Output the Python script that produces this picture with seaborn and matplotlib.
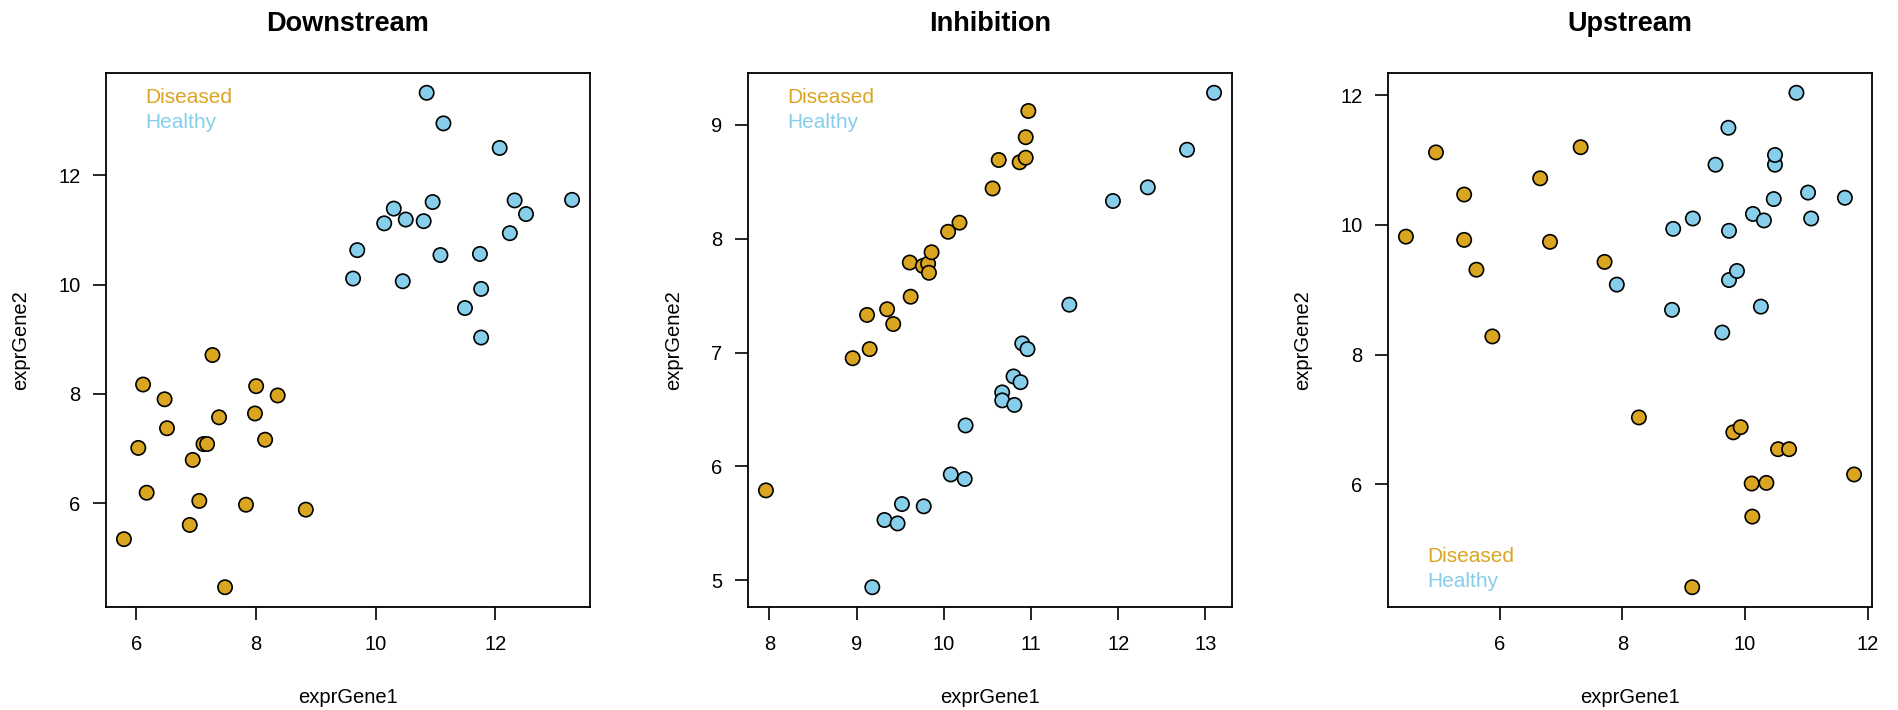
import numpy as np
import pandas as pd
import matplotlib
matplotlib.use("Agg")
import matplotlib.pyplot as plt
import seaborn as sns

sns.set_theme(style="white")
plt.rcParams['font.family'] = ['Liberation Sans', 'DejaVu Sans']
plt.rcParams['text.color'] = 'black'
plt.rcParams['axes.labelcolor'] = 'black'
plt.rcParams['xtick.color'] = 'black'
plt.rcParams['ytick.color'] = 'black'

# ---- data -------------------------------------------------------------
groups = ["Diseased", "Healthy"]
group_colors = {"Diseased": "#DAA520", "Healthy": "#87CEEB"}
panel_titles = ["Downstream", "Inhibition", "Upstream"]

# Downstream
down_dis_g1 = [5.79, 6.11, 6.03, 6.17, 6.47, 6.51, 6.94, 6.89, 7.05, 7.12, 7.18,
               7.27, 7.38, 7.48, 7.83, 8.00, 7.98, 8.15, 8.36, 8.83]
down_dis_g2 = [5.34, 8.17, 7.01, 6.19, 7.90, 7.37, 6.79, 5.60, 6.04, 7.08, 7.08,
               8.71, 7.57, 4.46, 5.97, 8.14, 7.64, 7.16, 7.97, 5.88]
down_hea_g1 = [10.85, 11.13, 12.07, 12.32, 13.28, 12.51, 10.95, 10.30, 10.14, 10.50,
               10.80, 9.69, 9.62, 10.45, 11.08, 11.74, 12.24, 11.76, 11.49, 11.76]
down_hea_g2 = [13.51, 12.95, 12.50, 11.54, 11.55, 11.29, 11.51, 11.39, 11.12, 11.19,
               11.16, 10.63, 10.11, 10.06, 10.54, 10.56, 10.94, 9.92, 9.57, 9.03]

# Inhibition
inh_dis_g1 = [7.96, 8.955, 9.15, 9.12, 9.35, 9.42, 9.62, 9.61, 9.76, 9.82,
              9.83, 9.86, 10.05, 10.18, 10.56, 10.63, 10.87, 10.94, 10.94, 10.97]
inh_dis_g2 = [5.79, 6.95, 7.03, 7.33, 7.38, 7.25, 7.49, 7.79, 7.76, 7.78,
              7.70, 7.88, 8.06, 8.14, 8.44, 8.69, 8.67, 8.71, 8.89, 9.12]
inh_hea_g1 = [9.18, 9.32, 9.47, 9.52, 9.77, 10.08, 10.24, 10.25, 10.67, 10.67,
              10.81, 10.80, 10.88, 10.90, 10.96, 11.44, 11.94, 12.34, 12.79, 13.10]
inh_hea_g2 = [4.94, 5.53, 5.50, 5.67, 5.65, 5.93, 5.89, 6.36, 6.65, 6.58,
              6.54, 6.79, 6.74, 7.08, 7.03, 7.42, 8.33, 8.45, 8.78, 9.28]

# Upstream
up_dis_g1 = [4.47, 4.96, 5.42, 5.42, 5.62, 5.88, 6.66, 6.82, 7.32, 7.71,
             8.27, 9.14, 9.81, 9.93, 10.11, 10.35, 10.12, 10.54, 10.72, 11.78]
up_dis_g2 = [9.82, 11.12, 10.47, 9.77, 9.31, 8.28, 10.72, 9.74, 11.20, 9.43,
             7.03, 4.41, 6.80, 6.88, 6.01, 6.02, 5.50, 6.54, 6.54, 6.15]
up_hea_g1 = [7.91, 8.81, 8.83, 9.15, 9.52, 9.73, 9.63, 9.74, 9.74, 9.87,
             10.13, 10.31, 10.26, 10.47, 10.49, 10.49, 10.84, 11.03, 11.08, 11.63]
up_hea_g2 = [9.08, 8.69, 9.94, 10.10, 10.93, 11.50, 8.34, 9.91, 9.15, 9.29,
             10.17, 10.07, 8.74, 10.40, 10.93, 11.08, 12.04, 10.50, 10.10, 10.42]

x_ticks = [[6, 8, 10, 12], [8, 9, 10, 11, 12, 13], [6, 8, 10, 12]]
y_ticks = [[6, 8, 10, 12], [5, 6, 7, 8, 9], [6, 8, 10, 12]]


def make_frame(dis_x, dis_y, hea_x, hea_y):
    return pd.DataFrame({
        "exprGene1": dis_x + hea_x,
        "exprGene2": dis_y + hea_y,
        "group": ["Diseased"] * len(dis_x) + ["Healthy"] * len(hea_x),
    })


frames = [
    make_frame(down_dis_g1, down_dis_g2, down_hea_g1, down_hea_g2),
    make_frame(inh_dis_g1, inh_dis_g2, inh_hea_g1, inh_hea_g2),
    make_frame(up_dis_g1, up_dis_g2, up_hea_g1, up_hea_g2),
]

# ---- figure -----------------------------------------------------------
W, H = 1898, 710
fig = plt.figure(figsize=(W / 100, H / 100), dpi=100)
fig.patch.set_facecolor("white")

panel_left_px = [106, 748, 1388]
ax_w, ax_h = 484 / W, 534 / H
ax_bottom = (H - 607) / H
legend_pos = ["top", "top", "bottom"]

for i, df in enumerate(frames):
    ax = fig.add_axes([panel_left_px[i] / W, ax_bottom, ax_w, ax_h])
    sns.scatterplot(data=df, x="exprGene1", y="exprGene2", hue="group",
                    hue_order=groups, palette=group_colors, s=106,
                    edgecolor="black", linewidth=1.2, legend=False, ax=ax,
                    zorder=3)
    ax.margins(x=0.04, y=0.04)
    ax.set_xticks(x_ticks[i])
    ax.set_yticks(y_ticks[i])
    ax.tick_params(axis="both", which="major", direction="out", length=9.4,
                   width=1.2, color="black", labelsize=14.5, pad=9,
                   labelcolor="black", left=True, bottom=True)
    ax.tick_params(axis="x", pad=11)
    for sp in ax.spines.values():
        sp.set_visible(True)
        sp.set_color("black")
        sp.set_linewidth(1.3)
    ax.set_facecolor("white")
    ax.grid(False)
    ax.set_xlabel("exprGene1", fontsize=14.5, labelpad=24, color="black")
    ax.set_ylabel("exprGene2", fontsize=14.5, labelpad=20, color="black")
    ax.set_title(panel_titles[i], fontsize=19.5, fontweight="bold", pad=30,
                 color="black")

    # text-only legend
    if legend_pos[i] == "top":
        ys = [0.955, 0.908]
    else:
        ys = [0.094, 0.047]
    for g, yy in zip(groups, ys):
        ax.text(0.082, yy, g, transform=ax.transAxes, color=group_colors[g],
                fontsize=15, ha="left", va="center")

fig.savefig("out.png", dpi=100, facecolor="white")
